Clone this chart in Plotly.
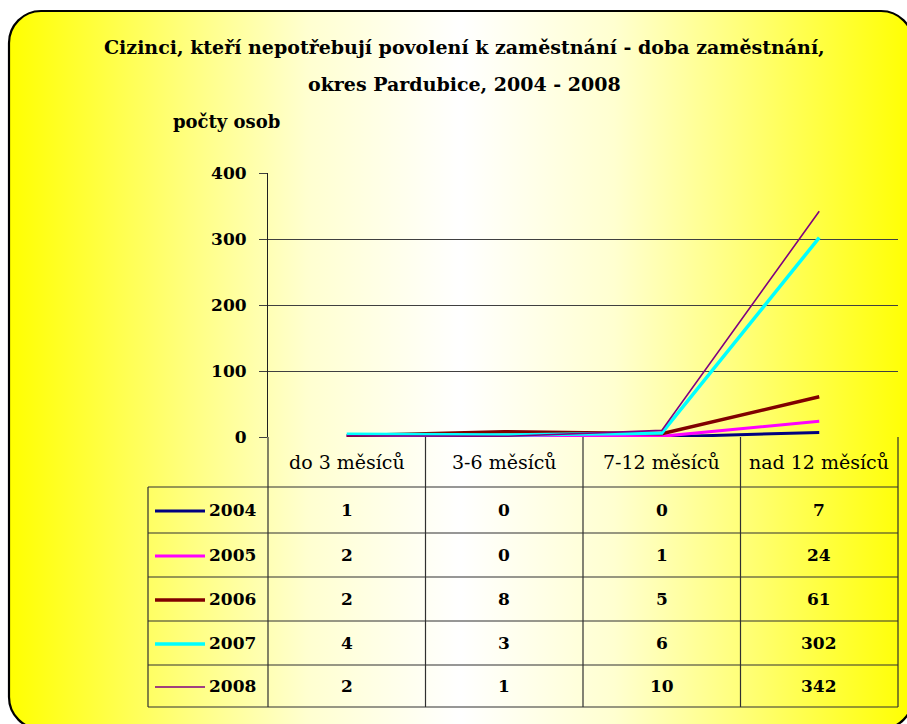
import base64
import plotly.graph_objects as go

# ---- data ----
categories = ["do 3 měsíců", "3-6 měsíců", "7-12 měsíců", "nad 12 měsíců"]
years = ["2004", "2005", "2006", "2007", "2008"]
v2004 = [1, 0, 0, 7]
v2005 = [2, 0, 1, 24]
v2006 = [2, 8, 5, 61]
v2007 = [4, 3, 6, 302]
v2008 = [2, 1, 10, 342]
series = [v2004, v2005, v2006, v2007, v2008]
colors = ["#000080", "#FF00FF", "#800000", "#00FFFF", "#800080"]
widths = [3, 3, 3.5, 3.5, 1.6]
y_ticks = [0, 100, 200, 300, 400]

title1 = "Cizinci, kteří nepotřebují povolení k zaměstnání - doba zaměstnání,"
title2 = "okres Pardubice, 2004 - 2008"
y_title = "počty osob"

W, H = 907, 724
FONT = "DejaVu Serif"


def px(x):
    return x / W


def py(y):
    return 1 - y / H


# background: rounded box with horizontal yellow-white-yellow gradient
svg = f'''<svg xmlns="http://www.w3.org/2000/svg" width="{W}" height="{H}" viewBox="0 0 {W} {H}" preserveAspectRatio="none">
<defs><linearGradient id="g" x1="0" x2="1" y1="0" y2="0">
<stop offset="0" stop-color="#FFFF00"/><stop offset="0.1" stop-color="#FFFF40"/>
<stop offset="0.2" stop-color="#FFFF80"/><stop offset="0.33" stop-color="#FFFFD0"/>
<stop offset="0.5" stop-color="#FFFFFF"/>
<stop offset="0.67" stop-color="#FFFFD0"/><stop offset="0.8" stop-color="#FFFF80"/>
<stop offset="0.9" stop-color="#FFFF40"/><stop offset="1" stop-color="#FFFF00"/></linearGradient></defs>
<rect x="9" y="11" width="904" height="718" rx="32" ry="32" fill="url(#g)" stroke="#000" stroke-width="2.2"/>
</svg>'''
src = "data:image/svg+xml;base64," + base64.b64encode(svg.encode()).decode()

fig = go.Figure()
for yr, vals, c, w in zip(years, series, colors, widths):
    fig.add_trace(go.Scatter(x=categories, y=vals, mode="lines", name=yr,
                             line=dict(color=c, width=w), showlegend=False))

plot_left, plot_right = 268, 898
y0_px, y400_px = 437, 173

fig.update_layout(
    width=W, height=H,
    margin=dict(l=0, r=0, t=0, b=0, pad=0, autoexpand=False),
    showlegend=False,
    paper_bgcolor="white",
    plot_bgcolor="rgba(0,0,0,0)",
    font=dict(family=FONT, color="black"),
    images=[dict(source=src, xref="paper", yref="paper", x=0, y=1,
                 sizex=1, sizey=1, sizing="stretch", layer="below",
                 xanchor="left", yanchor="top")],
    xaxis=dict(domain=[px(plot_left), px(plot_right)], type="category",
               categoryorder="array", categoryarray=categories, automargin=False,
               range=[-0.5, 3.5], showticklabels=False, showgrid=False,
               zeroline=False, showline=False, ticks=""),
    yaxis=dict(domain=[py(y0_px), py(y400_px)], range=[0, 400], automargin=False,
               tickvals=y_ticks, ticktext=["<b>%d</b>" % t for t in y_ticks],
               showgrid=True, gridcolor="#404040", gridwidth=1,
               zeroline=False, showline=True, linecolor="#202020", linewidth=1,
               ticks="outside", ticklen=8, tickcolor="#404040",
               tickfont=dict(family=FONT, size=17, color="black"),
               ticklabelstandoff=9),
)

ann = []
ann.append(dict(text="<b>" + title1 + "</b>", x=px(464), y=py(47), xref="paper", yref="paper",
                showarrow=False, font=dict(size=19, family=FONT), xanchor="center", yanchor="middle"))
ann.append(dict(text="<b>" + title2 + "</b>", x=px(464), y=py(84), xref="paper", yref="paper",
                showarrow=False, font=dict(size=19, family=FONT), xanchor="center", yanchor="middle"))
ann.append(dict(text="<b>" + y_title + "</b>", x=px(171), y=py(122), xref="paper", yref="paper",
                showarrow=False, font=dict(size=18, family=FONT), xanchor="left", yanchor="middle"))

# table geometry
header_top, header_bot = 437, 487
row_bounds = [487, 533, 577, 621, 665, 707]
left_col = 148
col_bounds = [268, 425.5, 583, 740.5, 898]

shapes = []
line_col = "#303030"
for xb in col_bounds:
    shapes.append(dict(type="line", xref="paper", yref="paper", x0=px(xb), x1=px(xb),
                       y0=py(header_top), y1=py(row_bounds[-1]), line=dict(color=line_col, width=1.2)))
for i, yb in enumerate(row_bounds):
    shapes.append(dict(type="line", xref="paper", yref="paper", x0=px(left_col), x1=px(col_bounds[-1]),
                       y0=py(yb), y1=py(yb), line=dict(color=line_col, width=1.2)))
shapes.append(dict(type="line", xref="paper", yref="paper", x0=px(left_col), x1=px(left_col),
                   y0=py(row_bounds[0]), y1=py(row_bounds[-1]), line=dict(color=line_col, width=1.2)))

# header labels
for c in categories:
    ann.append(dict(text=c, x=c, xref="x", y=py((header_top + header_bot) / 2), yref="paper",
                    showarrow=False, font=dict(size=19, family=FONT), xanchor="center", yanchor="middle"))

# rows
for i, (yr, vals, c, w) in enumerate(zip(years, series, colors, widths)):
    yc = (row_bounds[i] + row_bounds[i + 1]) / 2
    shapes.append(dict(type="line", xref="paper", yref="paper", x0=px(155), x1=px(205),
                       y0=py(yc + 1), y1=py(yc + 1), line=dict(color=c, width=w)))
    ann.append(dict(text="<b>" + yr + "</b>", x=px(258), y=py(yc), xref="paper", yref="paper",
                    showarrow=False, font=dict(size=17, family=FONT), xanchor="right", yanchor="middle"))
    for cat, v in zip(categories, vals):
        ann.append(dict(text="<b>" + str(v) + "</b>", x=cat, xref="x", y=py(yc), yref="paper",
                        showarrow=False, font=dict(size=17, family=FONT), xanchor="center", yanchor="middle"))

fig.update_layout(annotations=ann, shapes=shapes)
fig.write_html("out.html", config={"displayModeBar": False},
               post_script="document.body.style.margin='0';document.body.style.overflow='hidden';")
